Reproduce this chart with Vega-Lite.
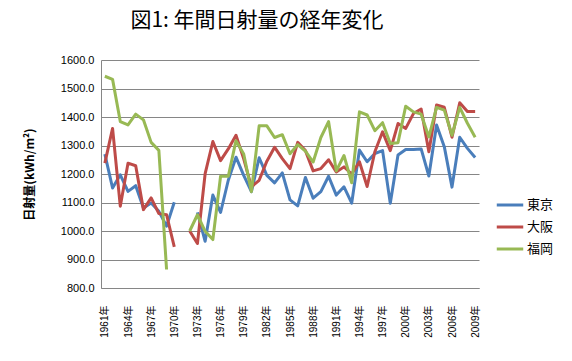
{
  "$schema": "https://vega.github.io/schema/vega-lite/v6.json",
  "width": 378,
  "height": 228,
  "padding": {"left": 23, "top": 10, "right": 5, "bottom": 5},
  "background": "white",
  "title": {
    "text": "図1: 年間日射量の経年変化",
    "font": "Noto Sans CJK JP",
    "fontSize": 21,
    "fontWeight": "normal",
    "color": "black",
    "anchor": "middle",
    "frame": "group",
    "dx": -33,
    "offset": 23
  },
  "config": {
    "view": {"stroke": null},
    "font": "Liberation Sans, Noto Sans CJK JP"
  },
  "data": {
    "values": [
      {"year": 1961, "city": "東京", "value": 1270}, {"year": 1961, "city": "大阪", "value": 1238}, {"year": 1961, "city": "福岡", "value": 1543},
      {"year": 1962, "city": "東京", "value": 1151}, {"year": 1962, "city": "大阪", "value": 1360}, {"year": 1962, "city": "福岡", "value": 1532},
      {"year": 1963, "city": "東京", "value": 1197}, {"year": 1963, "city": "大阪", "value": 1087}, {"year": 1963, "city": "福岡", "value": 1384},
      {"year": 1964, "city": "東京", "value": 1139}, {"year": 1964, "city": "大阪", "value": 1238}, {"year": 1964, "city": "福岡", "value": 1372},
      {"year": 1965, "city": "東京", "value": 1159}, {"year": 1965, "city": "大阪", "value": 1229}, {"year": 1965, "city": "福岡", "value": 1410},
      {"year": 1966, "city": "東京", "value": 1081}, {"year": 1966, "city": "大阪", "value": 1075}, {"year": 1966, "city": "福岡", "value": 1390},
      {"year": 1967, "city": "東京", "value": 1098}, {"year": 1967, "city": "大阪", "value": 1116}, {"year": 1967, "city": "福岡", "value": 1311},
      {"year": 1968, "city": "東京", "value": 1069}, {"year": 1968, "city": "大阪", "value": 1061}, {"year": 1968, "city": "福岡", "value": 1283},
      {"year": 1969, "city": "東京", "value": 1017}, {"year": 1969, "city": "大阪", "value": 1057}, {"year": 1969, "city": "福岡", "value": 865},
      {"year": 1970, "city": "東京", "value": 1101}, {"year": 1970, "city": "大阪", "value": 944}, {"year": 1970, "city": "福岡", "value": null},
      {"year": 1971, "city": "東京", "value": null}, {"year": 1971, "city": "大阪", "value": null}, {"year": 1971, "city": "福岡", "value": null},
      {"year": 1972, "city": "東京", "value": null}, {"year": 1972, "city": "大阪", "value": 1000}, {"year": 1972, "city": "福岡", "value": 1000},
      {"year": 1973, "city": "東京", "value": 1065}, {"year": 1973, "city": "大阪", "value": 956}, {"year": 1973, "city": "福岡", "value": 1057},
      {"year": 1974, "city": "東京", "value": 964}, {"year": 1974, "city": "大阪", "value": 1201}, {"year": 1974, "city": "福岡", "value": 999},
      {"year": 1975, "city": "東京", "value": 1126}, {"year": 1975, "city": "大阪", "value": 1314}, {"year": 1975, "city": "福岡", "value": 970},
      {"year": 1976, "city": "東京", "value": 1065}, {"year": 1976, "city": "大阪", "value": 1247}, {"year": 1976, "city": "福岡", "value": 1192},
      {"year": 1977, "city": "東京", "value": 1178}, {"year": 1977, "city": "大阪", "value": 1288}, {"year": 1977, "city": "福岡", "value": 1192},
      {"year": 1978, "city": "東京", "value": 1259}, {"year": 1978, "city": "大阪", "value": 1336}, {"year": 1978, "city": "福岡", "value": 1317},
      {"year": 1979, "city": "東京", "value": 1195}, {"year": 1979, "city": "大阪", "value": 1253}, {"year": 1979, "city": "福岡", "value": 1270},
      {"year": 1980, "city": "東京", "value": 1138}, {"year": 1980, "city": "大阪", "value": 1155}, {"year": 1980, "city": "福岡", "value": 1138},
      {"year": 1981, "city": "東京", "value": 1257}, {"year": 1981, "city": "大阪", "value": 1178}, {"year": 1981, "city": "福岡", "value": 1369},
      {"year": 1982, "city": "東京", "value": 1195}, {"year": 1982, "city": "大阪", "value": 1245}, {"year": 1982, "city": "福岡", "value": 1369},
      {"year": 1983, "city": "東京", "value": 1169}, {"year": 1983, "city": "大阪", "value": 1294}, {"year": 1983, "city": "福岡", "value": 1328},
      {"year": 1984, "city": "東京", "value": 1204}, {"year": 1984, "city": "大阪", "value": 1254}, {"year": 1984, "city": "福岡", "value": 1338},
      {"year": 1985, "city": "東京", "value": 1109}, {"year": 1985, "city": "大阪", "value": 1219}, {"year": 1985, "city": "福岡", "value": 1271},
      {"year": 1986, "city": "東京", "value": 1088}, {"year": 1986, "city": "大阪", "value": 1311}, {"year": 1986, "city": "福岡", "value": 1303},
      {"year": 1987, "city": "東京", "value": 1188}, {"year": 1987, "city": "大阪", "value": 1282}, {"year": 1987, "city": "福岡", "value": 1280},
      {"year": 1988, "city": "東京", "value": 1115}, {"year": 1988, "city": "大阪", "value": 1211}, {"year": 1988, "city": "福岡", "value": 1242},
      {"year": 1989, "city": "東京", "value": 1138}, {"year": 1989, "city": "大阪", "value": 1219}, {"year": 1989, "city": "福岡", "value": 1328},
      {"year": 1990, "city": "東京", "value": 1192}, {"year": 1990, "city": "大阪", "value": 1250}, {"year": 1990, "city": "福岡", "value": 1384},
      {"year": 1991, "city": "東京", "value": 1126}, {"year": 1991, "city": "大阪", "value": 1207}, {"year": 1991, "city": "福岡", "value": 1211},
      {"year": 1992, "city": "東京", "value": 1155}, {"year": 1992, "city": "大阪", "value": 1225}, {"year": 1992, "city": "福岡", "value": 1265},
      {"year": 1993, "city": "東京", "value": 1098}, {"year": 1993, "city": "大阪", "value": 1200}, {"year": 1993, "city": "福岡", "value": 1169},
      {"year": 1994, "city": "東京", "value": 1284}, {"year": 1994, "city": "大阪", "value": 1243}, {"year": 1994, "city": "福岡", "value": 1418},
      {"year": 1995, "city": "東京", "value": 1243}, {"year": 1995, "city": "大阪", "value": 1156}, {"year": 1995, "city": "福岡", "value": 1407},
      {"year": 1996, "city": "東京", "value": 1272}, {"year": 1996, "city": "大阪", "value": 1278}, {"year": 1996, "city": "福岡", "value": 1352},
      {"year": 1997, "city": "東京", "value": 1282}, {"year": 1997, "city": "大阪", "value": 1348}, {"year": 1997, "city": "福岡", "value": 1380},
      {"year": 1998, "city": "東京", "value": 1097}, {"year": 1998, "city": "大阪", "value": 1282}, {"year": 1998, "city": "福岡", "value": 1307},
      {"year": 1999, "city": "東京", "value": 1267}, {"year": 1999, "city": "大阪", "value": 1377}, {"year": 1999, "city": "福岡", "value": 1310},
      {"year": 2000, "city": "東京", "value": 1286}, {"year": 2000, "city": "大阪", "value": 1360}, {"year": 2000, "city": "福岡", "value": 1438},
      {"year": 2001, "city": "東京", "value": 1286}, {"year": 2001, "city": "大阪", "value": 1412}, {"year": 2001, "city": "福岡", "value": 1418},
      {"year": 2002, "city": "東京", "value": 1288}, {"year": 2002, "city": "大阪", "value": 1428}, {"year": 2002, "city": "福岡", "value": 1410},
      {"year": 2003, "city": "東京", "value": 1193}, {"year": 2003, "city": "大阪", "value": 1278}, {"year": 2003, "city": "福岡", "value": 1330},
      {"year": 2004, "city": "東京", "value": 1372}, {"year": 2004, "city": "大阪", "value": 1442}, {"year": 2004, "city": "福岡", "value": 1434},
      {"year": 2005, "city": "東京", "value": 1296}, {"year": 2005, "city": "大阪", "value": 1434}, {"year": 2005, "city": "福岡", "value": 1424},
      {"year": 2006, "city": "東京", "value": 1154}, {"year": 2006, "city": "大阪", "value": 1329}, {"year": 2006, "city": "福岡", "value": 1336},
      {"year": 2007, "city": "東京", "value": 1329}, {"year": 2007, "city": "大阪", "value": 1450}, {"year": 2007, "city": "福岡", "value": 1434},
      {"year": 2008, "city": "東京", "value": 1290}, {"year": 2008, "city": "大阪", "value": 1419}, {"year": 2008, "city": "福岡", "value": 1378},
      {"year": 2009, "city": "東京", "value": 1258}, {"year": 2009, "city": "大阪", "value": 1419}, {"year": 2009, "city": "福岡", "value": 1329}
    ]
  },
  "mark": {"type": "line", "strokeWidth": 3, "invalid": "break-paths-filter-domains", "strokeJoin": "round"},
  "encoding": {
    "x": {
      "field": "year",
      "type": "quantitative",
      "scale": {"domain": [1960.5, 2009.5], "nice": false, "zero": false},
      "axis": {
        "title": null,
        "values": [1961, 1964, 1967, 1970, 1973, 1976, 1979, 1982, 1985, 1988, 1991, 1994, 1997, 2000, 2003, 2006, 2009],
        "labelExpr": "datum.value + '年'",
        "labelAngle": -90,
        "labelFont": "Liberation Sans, Noto Sans CJK JP",
        "labelFontSize": 10,
        "labelColor": "black",
        "labelPadding": 17,
        "ticks": false,
        "grid": false,
        "domainColor": "#868686",
        "domainWidth": 1
      }
    },
    "y": {
      "field": "value",
      "type": "quantitative",
      "scale": {"domain": [800, 1600], "nice": false, "zero": false},
      "axis": {
        "title": "日射量(kWh/m²)",
        "titleFont": "Noto Sans CJK JP",
        "titleFontSize": 12,
        "titleFontWeight": "bold",
        "titleColor": "black",
        "titlePadding": 24,
        "values": [800, 900, 1000, 1100, 1200, 1300, 1400, 1500, 1600],
        "format": ".1f",
        "labelFont": "Liberation Sans, Noto Sans CJK JP",
        "labelFontSize": 11,
        "labelColor": "black",
        "labelPadding": 7,
        "ticks": false,
        "grid": true,
        "gridColor": "#868686",
        "gridWidth": 1,
        "domainColor": "#868686",
        "domainWidth": 1
      }
    },
    "color": {
      "field": "city",
      "type": "nominal",
      "scale": {"domain": ["東京", "大阪", "福岡"], "range": ["#4A7EBB", "#BE4B48", "#98B954"]},
      "legend": {
        "title": null,
        "orient": "none",
        "legendX": 394,
        "legendY": 130,
        "symbolType": "stroke",
        "symbolSize": 700,
        "symbolStrokeWidth": 3,
        "labelFont": "Noto Sans CJK JP",
        "labelFontSize": 13,
        "labelColor": "black",
        "labelOffset": 2,
        "rowPadding": 0,
        "padding": 0
      }
    }
  }
}
